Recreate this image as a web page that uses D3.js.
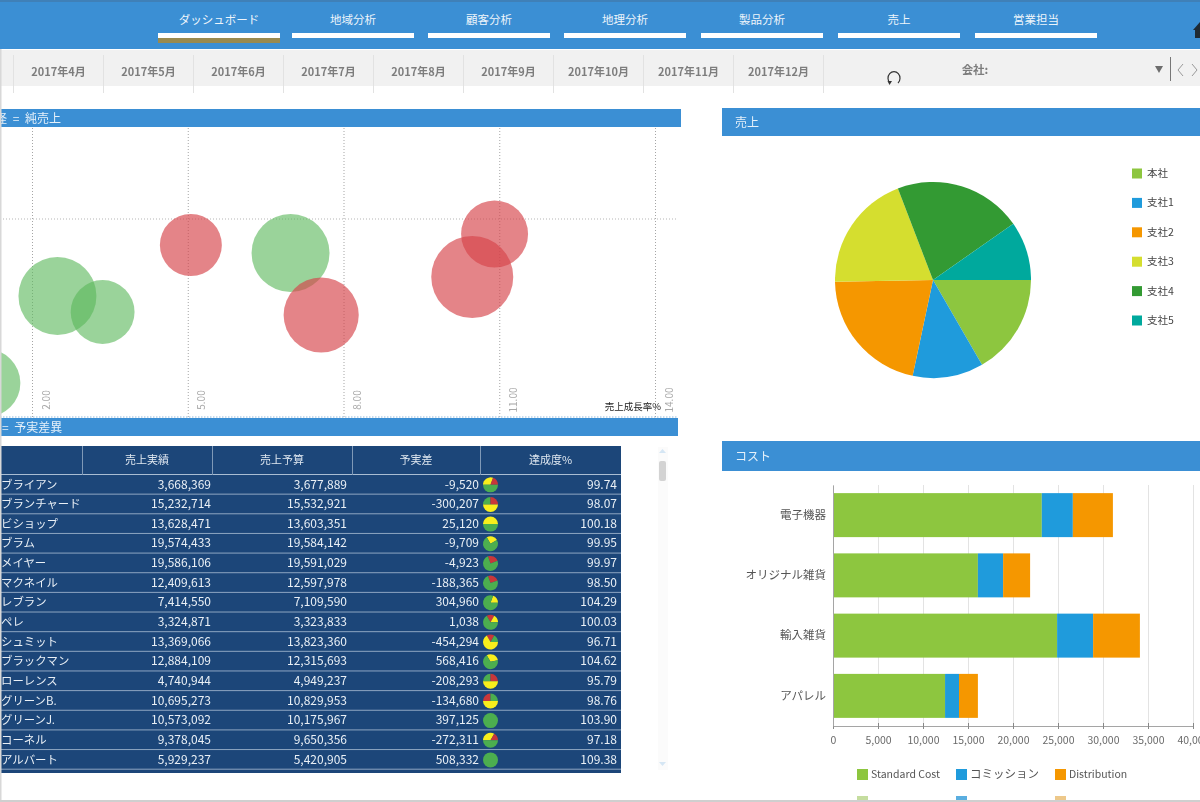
<!DOCTYPE html>
<html>
<head>
<meta charset="utf-8">
<script src="https://cdnjs.cloudflare.com/ajax/libs/d3/7.8.5/d3.min.js"></script>
<style>
  html, body { margin: 0; padding: 0; background: #fff; overflow: hidden; }
  svg { display: block; filter: blur(0.35px); }
  text { font-family: "Noto Sans CJK JP", "Noto Sans", sans-serif; }
</style>
</head>
<body>
<svg id="chart" width="1200" height="802"></svg>
<script>
const navTabs = ['ダッシュボード', '地域分析', '顧客分析', '地理分析', '製品分析', '売上', '営業担当'];
const months = ['2017年4月', '2017年5月', '2017年6月', '2017年7月', '2017年8月', '2017年9月', '2017年10月', '2017年11月', '2017年12月'];

// scatter: growth %, profit %, sales (millions)
const bubbleGrowth = [2.49, 3.36, 6.98, 1.12, 5.06, 7.57, 10.48, 10.91];
const bubbleProfit = [-3.85, -4.65, -1.7, -8.2, -1.3, -4.8, -2.9, -0.75];
const bubbleSales = [15.2, 10.2, 15.2, 11.6, 9.6, 14.1, 16.8, 11.2];
const bubbleState = ['good', 'good', 'good', 'good', 'bad', 'bad', 'bad', 'bad'];
const growthTicks = [2, 5, 8, 11, 14];

// table
const tableColumns = ['売上実績', '売上予算', '予実差', '達成度%'];
const repNames = ['ブライアン', 'ブランチャード', 'ビショップ', 'ブラム', 'メイヤー', 'マクネイル', 'レブラン', 'ペレ', 'シュミット', 'ブラックマン', 'ローレンス', 'グリーンB.', 'グリーンJ.', 'コーネル', 'アルバート'];
const actuals = [3668369, 15232714, 13628471, 19574433, 19586106, 12409613, 7414550, 3324871, 13369066, 12884109, 4740944, 10695273, 10573092, 9378045, 5929237];
const budgets = [3677889, 15532921, 13603351, 19584142, 19591029, 12597978, 7109590, 3323833, 13823360, 12315693, 4949237, 10829953, 10175967, 9650356, 5420905];
const variances = [-9520, -300207, 25120, -9709, -4923, -188365, 304960, 1038, -454294, 568416, -208293, -134680, 397125, -272311, 508332];
const achieved = ['99.74', '98.07', '100.18', '99.95', '99.97', '98.50', '104.29', '100.03', '96.71', '104.62', '95.79', '98.76', '103.90', '97.18', '109.38'];
// mini pies: start angle (deg clockwise from 12 o'clock), then [colour key, degrees]
const miniStart = [-90, -90, -90, -30, -20, -20, 20, -30, -30, -30, -90, -90, 0, -90, 0];
const miniSlices = [
  [['y', 110], ['r', 70], ['g', 180]],
  [['g', 90], ['r', 90], ['y', 180]],
  [['y', 180], ['g', 180]],
  [['y', 90], ['g', 270]],
  [['r', 90], ['g', 270]],
  [['r', 90], ['g', 270]],
  [['y', 70], ['g', 290]],
  [['r', 60], ['y', 60], ['g', 240]],
  [['r', 60], ['g', 60], ['y', 240]],
  [['y', 110], ['g', 250]],
  [['g', 90], ['r', 90], ['y', 180]],
  [['r', 90], ['g', 90], ['y', 180]],
  [['g', 360]],
  [['y', 120], ['r', 60], ['g', 180]],
  [['g', 360]]
];

// pie
const pieLabels = ['本社', '支社1', '支社2', '支社3', '支社4', '支社5'];
const pieValues = [60, 42, 77, 70, 76, 35];
const pieColors = ['#8dc63f', '#1f9bdc', '#f59700', '#d5de2f', '#339a33', '#00a99d'];

// stacked bars
const costCategories = ['電子機器', 'オリジナル雑貨', '輸入雑貨', 'アパレル'];
const standardCost = [23200, 16100, 24900, 12450];
const commission = [3450, 2800, 4000, 1550];
const distribution = [4450, 3000, 5200, 2100];
const costLabels = ['Standard Cost', 'コミッション', 'Distribution'];
const costColors = ['#8dc63f', '#1f9bdc', '#f59700'];
const costTicks = [0, 5000, 10000, 15000, 20000, 25000, 30000, 35000, 40000];

const BLUE = '#3b8fd4';
const svg = d3.select('#chart');

// ---- header
svg.append('rect').attr('width', 1200).attr('height', 49).attr('fill', BLUE);
svg.append('rect').attr('width', 1200).attr('height', 2).attr('fill', '#3f80b8');

const tabX = d3.scaleOrdinal().domain(navTabs).range([158, 292, 428, 564, 701, 838, 975]);
navTabs.forEach((t, i) => {
  const g = svg.append('g').attr('transform', `translate(${tabX(t)},0)`);
  g.append('rect').attr('y', 33).attr('width', 122).attr('height', 5).attr('fill', '#fff');
  if (i === 0) g.append('rect').attr('y', 38).attr('width', 122).attr('height', 5).attr('fill', '#998a4f');
  g.append('text').attr('x', 61).attr('y', 24).attr('text-anchor', 'middle')
    .attr('font-size', 11.5).attr('fill', '#eef5fb').text(t);
});
// cut-off home icon at the right edge
svg.append('path').attr('d', 'M1200,22 L1193,30 L1195,30 L1195,38 L1200,38 Z').attr('fill', '#1f2a33');

// ---- month strip
svg.append('rect').attr('y', 50).attr('width', 1200).attr('height', 36).attr('fill', '#f1f1f1');
const monthX = d3.scaleBand().domain(months).range([13.5, 823.5]);
svg.selectAll('.month-sep').data([...months.map(m => monthX(m)), 823.5]).enter().append('line')
  .attr('x1', d => d).attr('x2', d => d).attr('y1', 55).attr('y2', 93)
  .attr('stroke', '#e2e2e2').attr('stroke-width', 1);
svg.selectAll('.month').data(months).enter().append('text')
  .attr('x', d => monthX(d) + monthX.bandwidth() / 2).attr('y', 76)
  .attr('text-anchor', 'middle').attr('font-size', 11).attr('font-weight', 700)
  .attr('fill', '#7d7d7d').text(d => d);
svg.append('text').attr('x', 975).attr('y', 74).attr('text-anchor', 'middle')
  .attr('font-size', 11.5).attr('font-weight', 700).attr('fill', '#7d7d7d').text('会社:');
svg.append('path').attr('d', 'M1155,66 L1163,66 L1159,73 Z').attr('fill', '#6d6d6d');
svg.append('line').attr('x1', 1170.5).attr('x2', 1170.5).attr('y1', 57).attr('y2', 81).attr('stroke', '#777');
svg.append('path').attr('d', 'M1183,64 L1178,70 L1183,76 M1192,64 L1197,70 L1192,76')
  .attr('fill', 'none').attr('stroke', '#999');
svg.append('path').attr('d', 'M890,83 A6,6.5 0 1 1 898,83').attr('fill', 'none').attr('stroke', '#333').attr('stroke-width', 1.2);
svg.append('path').attr('d', 'M887.5,81 L892,81 L889.5,85 Z').attr('fill', '#333');

// ---- panel heads
function panelHead(x, y, w, h, label, tx) {
  svg.append('rect').attr('x', x).attr('y', y).attr('width', w).attr('height', h).attr('fill', BLUE);
  svg.append('text').attr('x', tx).attr('y', y + h / 2 + 4.5).attr('font-size', 12)
    .attr('word-spacing', 3).attr('fill', '#e6f1fa').text(label);
}
panelHead(0, 109, 681, 18, '径 = 純売上', -5);
panelHead(722, 108, 478, 28, '売上', 735);
panelHead(722, 441, 478, 30, 'コスト', 735);

// ---- bubble chart
const growthScale = d3.scaleLinear().domain([2, 14]).range([32, 655]);
const profitScale = d3.scaleLinear().domain([0, -9.9]).range([219, 417]);
const bubbleR = d3.scaleSqrt().domain([0, 16.8]).range([0, 41]);

const scatterAxis = svg.append('g').attr('transform', 'translate(0,417)')
  .call(d3.axisTop(growthScale).tickValues(growthTicks).tickFormat(d3.format('.2f')).tickSize(290));
scatterAxis.select('.domain').remove();
scatterAxis.selectAll('line').attr('stroke', '#a5a5a5').attr('stroke-dasharray', '1,2');
scatterAxis.selectAll('text')
  .attr('transform', 'translate(17,-17) rotate(-90)')
  .attr('x', 0).attr('y', 0).attr('dy', 0)
  .attr('text-anchor', 'middle').attr('font-size', 10).attr('fill', '#a8a8a8')
  .attr('font-family', '"Noto Sans", sans-serif');
svg.append('line').attr('x1', 0).attr('x2', 677).attr('y1', profitScale(0)).attr('y2', profitScale(0))
  .attr('stroke', '#b5b5b5').attr('stroke-dasharray', '1,2');
svg.append('line').attr('x1', 0).attr('x2', 677).attr('y1', 417).attr('y2', 417)
  .attr('stroke', '#8fb8dc').attr('stroke-dasharray', '1.5,1.5');

svg.selectAll('.bubble').data(bubbleGrowth).enter().append('circle')
  .attr('cx', d => growthScale(d))
  .attr('cy', (d, i) => profitScale(bubbleProfit[i]))
  .attr('r', (d, i) => bubbleR(bubbleSales[i]))
  .attr('fill', (d, i) => bubbleState[i] === 'good' ? '#5cb85c' : '#d6444a')
  .attr('fill-opacity', (d, i) => bubbleState[i] === 'good' ? 0.62 : 0.66);

svg.append('text').attr('x', 661).attr('y', 410).attr('text-anchor', 'end')
  .attr('font-size', 9.5).attr('fill', '#222').text('売上成長率%');

panelHead(0, 418, 678, 18, '= 予実差異', 2);

// ---- table
const TBL = '#1c4679';
const colEdges = [0, 82, 212, 352, 480, 621];
const rowY = d3.scaleBand().domain(d3.range(repNames.length)).range([475, 769.7]);
svg.append('rect').attr('y', 446).attr('width', 621).attr('height', 327).attr('fill', TBL);
svg.append('line').attr('x1', 0).attr('x2', 621).attr('y1', 474.5).attr('y2', 474.5).attr('stroke', '#a9bdd3');
colEdges.slice(1, 5).forEach(x => {
  svg.append('line').attr('x1', x + 0.5).attr('x2', x + 0.5).attr('y1', 446).attr('y2', 475).attr('stroke', '#7f99b7');
});
tableColumns.forEach((c, i) => {
  svg.append('text').attr('x', (colEdges[i + 1] + colEdges[i + 2]) / 2).attr('y', 464)
    .attr('text-anchor', 'middle').attr('font-size', 11).attr('fill', '#dfe7f0').text(c);
});
const rows = svg.selectAll('.row').data(repNames).enter().append('g')
  .attr('transform', (d, i) => `translate(0,${rowY(i)})`);
rows.append('line').attr('x1', 0).attr('x2', 621).attr('y1', rowY.bandwidth() - 0.5).attr('y2', rowY.bandwidth() - 0.5)
  .attr('stroke', '#8ea6c2');
const rowText = (sel, x, anchor, fn) => sel.append('text').attr('x', x).attr('y', 13.5)
  .attr('text-anchor', anchor).attr('font-size', 12).attr('fill', '#eaf0f6').text(fn);
// plain hyphen for negatives, like the source table
const fmt = d3.formatLocale({ decimal: '.', thousands: ',', grouping: [3], currency: ['', ''], minus: '-' }).format(',');
rowText(rows, 1, 'start', d => d).attr('font-size', 11.4);
rowText(rows, 211, 'end', (d, i) => fmt(actuals[i]));
rowText(rows, 347, 'end', (d, i) => fmt(budgets[i]));
rowText(rows, 479, 'end', (d, i) => fmt(variances[i]));
rowText(rows, 617, 'end', (d, i) => achieved[i]);

const miniColor = { r: '#c8373a', y: '#f8ee1c', g: '#4cae4f' };
const miniArc = d3.arc().innerRadius(0).outerRadius(7.5);
rows.each(function (d, i) {
  const pie = d3.pie().sort(null).value(s => s[1])
    .startAngle(miniStart[i] * Math.PI / 180)
    .endAngle((miniStart[i] + 360) * Math.PI / 180);
  d3.select(this).append('g').attr('transform', `translate(490.5,${rowY.bandwidth() / 2})`)
    .selectAll('path').data(pie(miniSlices[i])).enter().append('path')
    .attr('d', miniArc).attr('fill', s => miniColor[s.data[0]]);
});

// scrollbar
svg.append('rect').attr('x', 658).attr('y', 447).attr('width', 10).attr('height', 323).attr('fill', '#fbfbfb');
svg.append('rect').attr('x', 659).attr('y', 461).attr('width', 7).attr('height', 20).attr('rx', 2).attr('fill', '#d3d3d3');
svg.append('path').attr('d', 'M659,453 L666,453 L662.5,449 Z').attr('fill', '#d5e6f4');
svg.append('path').attr('d', 'M659,762 L666,762 L662.5,766 Z').attr('fill', '#d5e6f4');

// ---- pie
const pieArc = d3.arc().innerRadius(0).outerRadius(98);
const pieGen = d3.pie().sort(null).startAngle(Math.PI / 2).endAngle(Math.PI * 2.5);
svg.append('g').attr('transform', 'translate(933,280)')
  .selectAll('path').data(pieGen(pieValues)).enter().append('path')
  .attr('d', pieArc).attr('fill', (d, i) => pieColors[i]);

const pieLegendY = d3.scalePoint().domain(pieLabels).range([173, 320]);
pieLabels.forEach((l, i) => {
  svg.append('rect').attr('x', 1132).attr('y', pieLegendY(l) - 4.5).attr('width', 10).attr('height', 10).attr('fill', pieColors[i]);
  svg.append('text').attr('x', 1147).attr('y', pieLegendY(l) + 4).attr('font-size', 10.5).attr('fill', '#444').text(l);
});

// ---- stacked bars
const costX = d3.scaleLinear().domain([0, 40000]).range([833, 1193]);
const costY = d3.scaleBand().domain(costCategories).range([485, 726]).paddingInner(0.27).paddingOuter(0.135);

const costGrid = svg.append('g').attr('transform', 'translate(0,726)')
  .call(d3.axisBottom(costX).tickValues(costTicks).tickSize(-241).tickFormat(''));
costGrid.select('.domain').remove();
costGrid.selectAll('line').attr('stroke', '#e3e3e3');

const stackRows = costCategories.map((c, i) => ({ cat: c, s0: standardCost[i], s1: commission[i], s2: distribution[i] }));
const stacked = d3.stack().keys(['s0', 's1', 's2'])(stackRows);
svg.selectAll('.layer').data(stacked).enter().append('g')
  .attr('fill', (d, i) => costColors[i])
  .selectAll('rect').data(d => d).enter().append('rect')
  .attr('x', d => costX(d[0]))
  .attr('y', d => costY(d.data.cat))
  .attr('width', d => costX(d[1]) - costX(d[0]))
  .attr('height', costY.bandwidth());

const costAxisX = svg.append('g').attr('transform', 'translate(0,726)')
  .call(d3.axisBottom(costX).tickValues(costTicks).tickSize(3).tickFormat(d3.format(',')));
costAxisX.select('.domain').attr('stroke', '#a5a5a5');
costAxisX.selectAll('line').attr('stroke', '#888').attr('y1', -3);
costAxisX.selectAll('text').attr('y', 11).attr('font-size', 10.5).attr('fill', '#6a6a6a')
  .attr('font-family', '"Noto Sans", sans-serif');

const costAxisY = svg.append('g').attr('transform', 'translate(833,0)')
  .call(d3.axisLeft(costY).tickSize(0).tickPadding(7));
costAxisY.select('.domain').attr('stroke', '#a5a5a5');
costAxisY.selectAll('text').attr('font-size', 11.5).attr('fill', '#555');

const legendX = d3.scaleOrdinal().domain(costLabels).range([857, 956, 1055]);
costLabels.forEach((l, i) => {
  svg.append('rect').attr('x', legendX(l)).attr('y', 769).attr('width', 11).attr('height', 11).attr('fill', costColors[i]);
  svg.append('text').attr('x', legendX(l) + 14).attr('y', 778).attr('font-size', i === 1 ? 11.5 : 10.5).attr('fill', '#555')
    .attr('font-family', '"Noto Sans", "Noto Sans CJK JP", sans-serif').text(l);
  // second legend row, cut off by the frame
  svg.append('rect').attr('x', legendX(l)).attr('y', 796).attr('width', 11).attr('height', 4)
    .attr('fill', i === 0 ? '#c5dd9f' : i === 1 ? '#5aaee0' : '#edc88a');
});

// frame
svg.append('rect').attr('y', 800).attr('width', 1200).attr('height', 2).attr('fill', '#cfcfcf');
svg.append('rect').attr('y', 49).attr('width', 1.5).attr('height', 751).attr('fill', '#d8d8d8');
</script>
</body>
</html>
